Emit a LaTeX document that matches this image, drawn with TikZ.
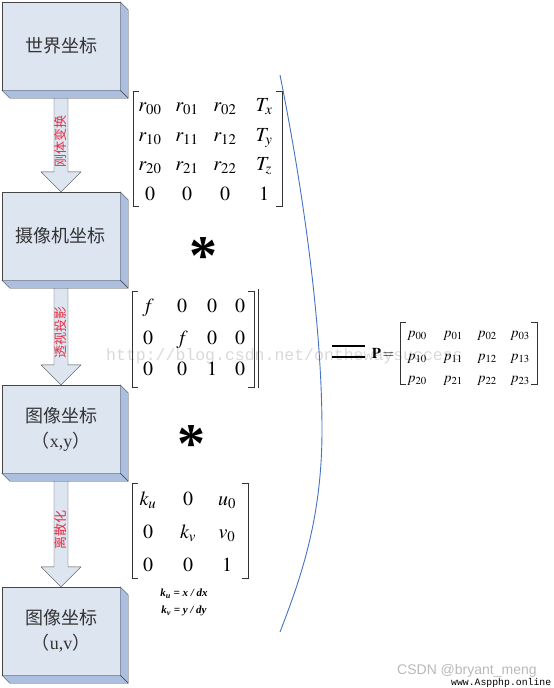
\documentclass[tikz,border=0pt]{standalone}
\usepackage{mathptmx}
\usepackage{fontspec}
\setmainfont{Liberation Serif}
\newfontfamily\cjk{Noto Sans CJK SC}
\newfontfamily\wmmono{Liberation Mono}
\newfontfamily\wmsans{Liberation Sans}
\usetikzlibrary{calc}

\definecolor{boxface}{RGB}{221,229,241}
\definecolor{boxside}{RGB}{172,191,223}
\definecolor{boxline}{RGB}{70,70,70}
\definecolor{arcblue}{RGB}{68,114,196}
\definecolor{steplabel}{RGB}{230,45,65}

\tikzset{
  coordbox/.style={draw=boxline, fill=boxface, minimum width=118pt, minimum height=88pt,
    inner sep=0pt, align=center, text=black!80, font=\cjk\fontsize{18}{25}\selectfont},
  sideface/.style={draw=boxline, fill=boxside, line join=round},
  blockarrow/.style={draw=boxline, fill=boxface, line join=round},
  steptext/.style={rotate=90, inner sep=0pt, text=steplabel, font=\cjk\fontsize{13}{13}\selectfont},
  mentry/.style={anchor=base, inner sep=0pt, font=\fontsize{20}{24}\selectfont},
  pentry/.style={anchor=base, inner sep=0pt, font=\fontsize{14.5}{16}\selectfont},
  kdef/.style={inner sep=0pt, font=\fontsize{11}{12}\selectfont\bfseries\itshape},
  mulsign/.style={inner sep=0pt, font=\fontsize{56}{56}\selectfont\bfseries},
  bracket/.style={draw=black!80, line width=0.8pt},
  wmark/.style={inner sep=0pt, text=gray!30, font=\wmmono\fontsize{16.5}{18}\selectfont},
}

%% bracket pair: left x, right x, top y, bottom y
\newcommand{\mbrack}[4]{%
  \draw[bracket] (#1+6,#3) -- (#1,#3) -- (#1,#4) -- (#1+6,#4);
  \draw[bracket] (#2-6,#3) -- (#2,#3) -- (#2,#4) -- (#2-6,#4);
}

\begin{document}
\begin{tikzpicture}[x=1pt, y=-1pt]
  \useasboundingbox (0,0) rectangle (554,688);
  %% Watermark behind everything
  \node[wmark, anchor=west] (wm) at (106,356) {http://blog.csdn.net/onthewaysuccess};

  %% Coordinate frames (3D boxes)
  \foreach \n/\yc/\txt in {world/46/{世界坐标}, cam/236/{摄像机坐标},
      img/429/{图像坐标\\（\textrm{x,y}）}, pix/631/{图像坐标\\（\textrm{u,v}）}}{
    \node[coordbox] (\n) at (61,\yc) {\txt};
    \filldraw[sideface] (\n.north east) -- ++(8,8) -- ($(\n.south east)+(8,8)$) -- (\n.south east) -- cycle;
    \filldraw[sideface] (\n.south west) -- ++(8,8) -- ($(\n.south east)+(8,8)$) -- (\n.south east) -- cycle;
  }

  %% Block arrows between frames
  \foreach \a/\b/\lbl in {world/cam/刚体变换, cam/img/透视投影, img/pix/离散化}{
    \filldraw[blockarrow] ($(\a.south)+(7,8)$) -- ($(\b.north)+(7,-20)$) -- ++(13,0)
      -- (\b.north) -- ++(-20,-20) -- ++(13,0) -- ($(\a.south)+(-7,8)$) -- cycle;
    \node[steptext] (\a-\b) at ($(\a.south)!0.5!(\b.north)$) {\lbl};
  }

  %% Rigid body matrix
  \mbrack{133}{282}{91}{206}
  \foreach \r/\yy/\ca/\cb/\cc/\cd in {0/111/r_{00}/r_{01}/r_{02}/T_x,
      1/141/r_{10}/r_{11}/r_{12}/T_y, 2/170/r_{20}/r_{21}/r_{22}/T_z, 3/200/0/0/0/1}{
    \foreach \k/\xx/\v in {0/150/\ca,1/187/\cb,2/225/\cc,3/264/\cd}{
      \node[mentry] (rt-\r-\k) at (\xx,\yy) {$\v$};
    }
  }

  %% Projection matrix
  \mbrack{132}{254}{291}{387}
  \draw[bracket] (258,289) -- (258,388);
  \foreach \r/\yy/\ca/\cb/\cc/\cd in {0/312/f/0/0/0, 1/344/0/f/0/0, 2/375/0/0/1/0}{
    \foreach \k/\xx/\v in {0/148/\ca,1/182/\cb,2/212/\cc,3/240/\cd}{
      \node[mentry] (pj-\r-\k) at (\xx,\yy) {$\v$};
    }
  }

  %% Discretisation matrix
  \mbrack{132}{248}{483}{578}
  \foreach \r/\yy/\ca/\cb/\cc in {0/505/k_u/0/u_0, 1/538/0/k_v/v_0, 2/571/0/0/1}{
    \foreach \k/\xx/\v in {0/148/\ca,1/188/\cb,2/227/\cc}{
      \node[mentry] (ds-\r-\k) at (\xx,\yy) {$\v$};
    }
  }
  \node[kdef] (ku) at (184,594) {k\textsubscript{u} = x / dx};
  \node[kdef] (kv) at (184,611) {k\textsubscript{v} = y / dy};

  %% Multiplication signs
  \node[mulsign] (mul1) at (203,256) {*};
  \node[mulsign] (mul2) at (191,444) {*};

  %% Grouping arc
  \draw[arcblue, line width=0.9pt] (280,75) .. controls (305,200) and (322,330) .. (322,430)
    .. controls (322,520) and (300,580) .. (280,632);

  %% Result
  \draw[line width=2.2pt] (332,346) -- (365,346);
  \draw[line width=2pt] (332,357) -- (365,357);
  \node[inner sep=0pt, font=\fontsize{15}{16}\selectfont] (peq) at (383,353) {$\mathbf{P}\,{=}$};
  \mbrack{400}{537}{322}{384}
  \foreach \r/\yy in {0/337,1/360,2/382}{
    \foreach \k/\xx in {0/417,1/453,2/487,3/520}{
      \node[pentry] (pm-\r-\k) at (\xx,\yy) {$p_{\r\k}$};
    }
  }

  %% Site marks
  \node[anchor=west, inner sep=0pt, text=gray!55, font=\wmsans\fontsize{14}{14}\selectfont] (csdn) at (397,671) {CSDN @bryant\_meng};
  \node[anchor=base west, inner sep=0pt, font=\wmmono\fontsize{9.8}{10}\selectfont] (site) at (451,685) {www.Aspphp.online};
\end{tikzpicture}
\end{document}
